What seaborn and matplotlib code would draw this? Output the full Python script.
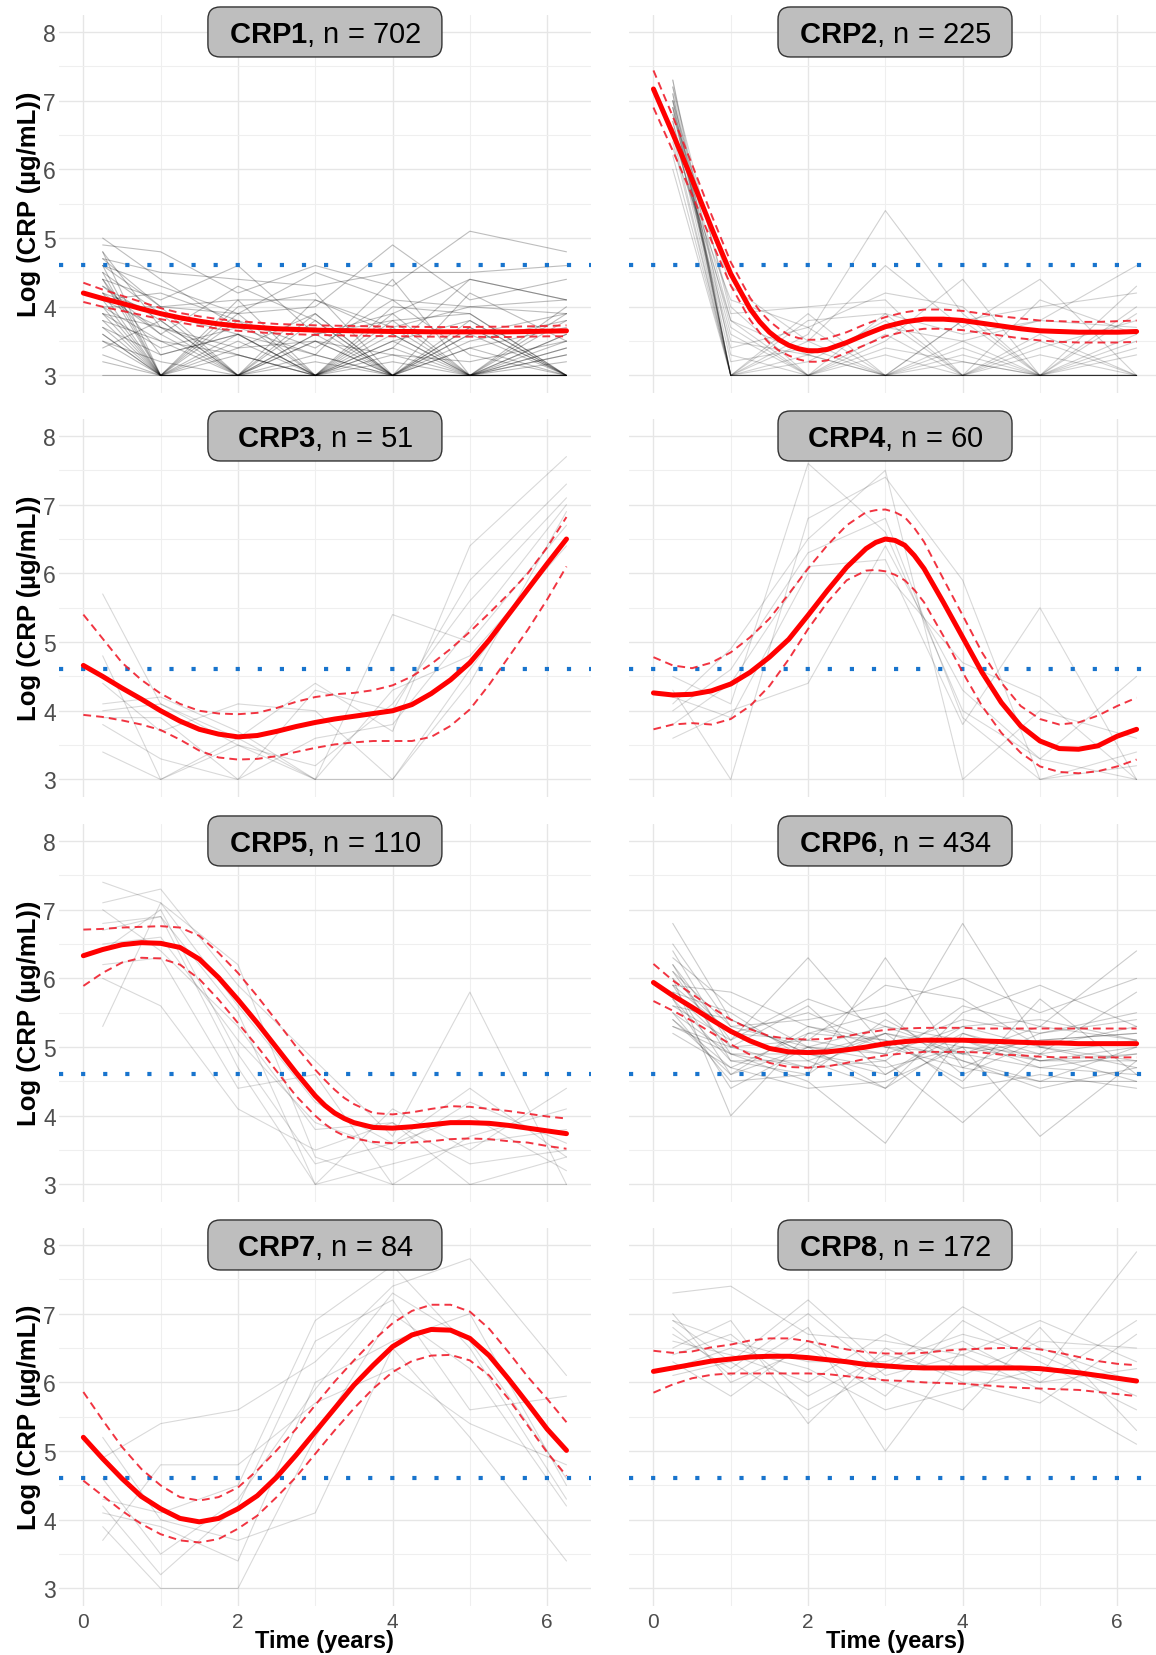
import numpy as np
import pandas as pd
import matplotlib
matplotlib.use("Agg")
import matplotlib.pyplot as plt
from matplotlib.patches import FancyBboxPatch
import seaborn as sns

# ---------------- data ----------------
visit_times = [0.25, 1, 2, 3, 4, 5, 6.25]
curve_times = [0.0, 0.25, 0.5, 0.75, 1.0, 1.25, 1.5, 1.75, 2.0, 2.25, 2.5, 2.75, 3.0,
               3.25, 3.5, 3.75, 4.0, 4.25, 4.5, 4.75, 5.0, 5.25, 5.5, 5.75, 6.0, 6.25]
threshold = 4.605  # log(100 ug/mL)

cluster_names = ["CRP1", "CRP2", "CRP3", "CRP4", "CRP5", "CRP6", "CRP7", "CRP8"]
cluster_n = [702, 225, 51, 60, 110, 434, 84, 172]

crp1_ind = [
    [4.8, 3.0, 3.6, 3.0, 3.4, 3.0, 3.0], [4.5, 3.9, 3.0, 3.5, 3.0, 3.7, 3.0],
    [4.2, 3.0, 4.1, 3.0, 3.9, 3.0, 3.5], [3.9, 3.7, 3.0, 3.8, 3.0, 3.0, 4.0],
    [5.0, 4.4, 3.7, 3.3, 3.0, 3.6, 3.0], [4.6, 3.0, 3.0, 4.1, 3.6, 3.0, 3.8],
    [3.7, 3.3, 3.6, 3.0, 3.0, 3.4, 3.0], [4.4, 4.1, 4.6, 3.6, 3.9, 4.4, 4.1],
    [4.1, 3.0, 3.3, 3.0, 3.7, 3.0, 3.3], [3.4, 3.8, 3.0, 3.0, 4.0, 3.9, 3.0],
    [4.7, 4.0, 3.9, 4.5, 4.1, 4.0, 3.9], [3.9, 3.0, 3.0, 3.0, 3.0, 3.0, 3.0],
    [4.3, 3.6, 4.3, 3.8, 3.0, 3.0, 3.6], [3.6, 3.0, 3.8, 3.0, 3.5, 3.8, 3.0],
    [4.9, 4.8, 4.2, 4.6, 4.3, 5.1, 4.8], [3.0, 3.0, 3.0, 3.5, 3.0, 3.0, 3.2],
    [4.0, 3.5, 3.0, 3.0, 3.3, 3.0, 3.0], [4.6, 4.3, 3.9, 4.0, 4.9, 4.1, 4.4],
    [3.8, 3.0, 3.4, 3.9, 3.0, 3.6, 3.9], [4.2, 3.9, 3.6, 3.0, 3.0, 3.0, 3.4],
    [3.5, 3.2, 3.0, 3.6, 3.8, 3.0, 3.0], [4.4, 3.0, 4.0, 4.2, 3.0, 3.8, 3.0],
    [3.3, 3.0, 3.0, 3.0, 3.0, 3.4, 3.7], [4.1, 4.2, 3.8, 3.4, 4.1, 3.3, 3.0],
    [4.8, 3.7, 3.3, 3.0, 3.4, 4.4, 4.1], [3.9, 3.4, 3.7, 3.7, 3.0, 3.0, 3.0],
    [4.5, 3.0, 3.0, 3.3, 4.4, 3.0, 3.6], [4.0, 4.0, 4.1, 4.1, 3.7, 4.0, 4.1],
    [3.6, 3.0, 3.0, 3.0, 3.6, 3.0, 3.0], [4.3, 3.8, 3.0, 3.9, 3.0, 3.5, 3.8],
    [4.7, 4.5, 4.4, 4.3, 4.5, 4.5, 4.6], [3.7, 3.0, 3.5, 3.0, 3.0, 3.0, 3.4],
    [4.2, 3.6, 3.0, 3.0, 3.8, 3.9, 3.0], [3.2, 3.0, 3.0, 3.2, 3.0, 3.0, 3.0],
    [4.0, 3.0, 3.9, 3.0, 3.2, 3.0, 3.0], [4.6, 4.0, 3.0, 3.6, 3.0, 4.2, 3.5],
    [3.8, 3.5, 3.3, 3.0, 3.5, 3.0, 3.9], [4.4, 3.3, 3.6, 3.3, 3.0, 3.7, 3.0],
    [3.5, 3.0, 3.0, 3.0, 3.0, 3.0, 3.3], [4.1, 3.7, 3.4, 3.5, 3.3, 3.2, 3.5],
]
crp1_t = curve_times
crp1_mean = [4.20, 4.12, 4.05, 3.97, 3.90, 3.84, 3.79, 3.75, 3.72, 3.70, 3.68, 3.67, 3.66,
             3.655, 3.65, 3.645, 3.64, 3.64, 3.635, 3.635, 3.635, 3.635, 3.635, 3.64, 3.645, 3.65]
crp1_hi = [4.35, 4.25, 4.16, 4.07, 3.98, 3.91, 3.86, 3.82, 3.79, 3.77, 3.75, 3.74, 3.73,
           3.725, 3.72, 3.715, 3.71, 3.71, 3.705, 3.705, 3.705, 3.71, 3.71, 3.715, 3.72, 3.73]
crp1_lo = [4.07, 4.00, 3.94, 3.88, 3.82, 3.77, 3.72, 3.68, 3.65, 3.63, 3.61, 3.60, 3.59,
           3.585, 3.58, 3.575, 3.57, 3.57, 3.565, 3.565, 3.565, 3.56, 3.56, 3.565, 3.57, 3.57]

crp2_ind = [
    [7.2, 3.0, 3.0, 3.0, 3.0, 3.0, 3.0], [7.0, 3.0, 3.3, 3.0, 3.5, 3.0, 3.0],
    [6.8, 4.3, 3.5, 3.0, 3.8, 3.0, 3.9], [7.3, 3.0, 3.0, 3.6, 3.0, 3.3, 3.0],
    [6.5, 3.8, 3.0, 3.9, 3.0, 4.1, 3.6], [6.9, 3.0, 3.6, 5.4, 3.9, 3.0, 3.0],
    [6.3, 4.1, 3.7, 4.2, 4.0, 3.0, 4.3], [7.1, 3.0, 3.0, 3.0, 3.3, 3.0, 3.4],
    [6.6, 3.5, 3.3, 3.0, 3.0, 3.6, 3.0], [7.0, 3.0, 3.8, 3.9, 3.6, 3.8, 4.6],
    [6.7, 3.6, 3.0, 3.5, 4.4, 3.0, 3.0], [6.4, 3.0, 3.0, 3.0, 3.0, 3.0, 3.0],
    [7.2, 3.9, 4.0, 4.1, 3.0, 3.4, 3.8], [6.9, 3.2, 3.4, 3.0, 3.0, 3.0, 3.0],
    [6.2, 3.0, 3.0, 3.4, 3.2, 3.0, 3.6], [6.8, 3.7, 3.0, 3.0, 3.8, 4.0, 4.2],
    [7.1, 3.0, 3.2, 3.8, 3.0, 3.0, 3.0], [6.6, 3.4, 3.7, 3.0, 3.4, 3.0, 4.0],
    [6.0, 3.0, 3.0, 3.0, 3.0, 3.5, 3.0], [7.0, 4.0, 3.0, 3.3, 3.0, 3.0, 3.3],
    [6.5, 3.0, 3.5, 4.6, 3.7, 4.4, 3.0], [7.3, 3.3, 3.0, 3.0, 3.0, 3.0, 3.5],
    [6.7, 3.0, 3.9, 3.0, 3.2, 3.0, 3.0], [6.9, 3.8, 3.3, 3.7, 3.5, 3.8, 3.7],
]
crp2_t = [0.0, 0.25, 0.5, 0.75, 1.0, 1.25, 1.375, 1.5, 1.625, 1.75, 1.875, 2.0, 2.125,
          2.25, 2.5, 2.75, 3.0, 3.25, 3.5, 3.75, 4.0, 4.25, 4.5, 4.75, 5.0, 5.25, 5.5,
          5.75, 6.0, 6.25]
crp2_mean = [7.17, 6.52, 5.85, 5.15, 4.48, 3.97, 3.78, 3.63, 3.52, 3.44, 3.39, 3.36, 3.36,
             3.38, 3.48, 3.60, 3.71, 3.78, 3.82, 3.82, 3.80, 3.76, 3.72, 3.68, 3.65, 3.64,
             3.63, 3.63, 3.63, 3.64]
crp2_hi = [7.44, 6.77, 6.07, 5.34, 4.65, 4.13, 3.94, 3.79, 3.68, 3.59, 3.545, 3.52, 3.52,
           3.54, 3.63, 3.75, 3.85, 3.92, 3.96, 3.96, 3.94, 3.90, 3.86, 3.83, 3.80, 3.79,
           3.78, 3.78, 3.79, 3.80]
crp2_lo = [6.90, 6.27, 5.63, 4.96, 4.31, 3.81, 3.62, 3.47, 3.36, 3.29, 3.235, 3.20, 3.20,
           3.22, 3.33, 3.45, 3.57, 3.64, 3.68, 3.68, 3.66, 3.62, 3.58, 3.54, 3.51, 3.49,
           3.48, 3.48, 3.48, 3.49]

crp3_ind = [
    [5.7, 4.1, 3.5, 3.0, 3.0, 4.6, 6.5], [4.8, 3.0, 3.6, 4.4, 3.7, 6.4, 7.7],
    [4.1, 4.2, 3.7, 3.0, 5.4, 5.0, 6.7], [3.9, 3.9, 3.0, 4.3, 4.0, 5.9, 7.3],
    [3.4, 3.0, 3.5, 3.2, 4.1, 5.6, 7.1], [4.4, 3.7, 4.1, 4.0, 3.0, 4.4, 6.9],
    [4.0, 4.1, 3.6, 3.0, 4.3, 4.8, 6.4], [3.8, 3.3, 3.0, 3.6, 3.8, 5.2, 7.0],
]
crp3_t = curve_times
crp3_mean = [4.66, 4.50, 4.33, 4.17, 4.00, 3.85, 3.73, 3.66, 3.62, 3.64, 3.70, 3.77, 3.83,
             3.88, 3.92, 3.96, 4.00, 4.09, 4.25, 4.45, 4.70, 5.03, 5.40, 5.77, 6.14, 6.50]
crp3_hi = [5.40, 5.05, 4.70, 4.45, 4.25, 4.10, 4.00, 3.96, 3.95, 3.97, 4.04, 4.13, 4.20,
           4.24, 4.26, 4.30, 4.37, 4.50, 4.68, 4.90, 5.15, 5.42, 5.70, 6.00, 6.38, 6.82]
crp3_lo = [3.94, 3.91, 3.86, 3.80, 3.72, 3.58, 3.42, 3.32, 3.29, 3.30, 3.34, 3.40, 3.46,
           3.51, 3.54, 3.56, 3.56, 3.56, 3.62, 3.78, 4.02, 4.38, 4.78, 5.18, 5.62, 6.10]

crp4_ind = [
    [4.5, 4.1, 7.6, 6.6, 4.0, 3.3, 3.0], [4.3, 3.0, 6.8, 7.4, 5.9, 3.0, 3.2],
    [4.1, 4.9, 6.5, 7.5, 3.0, 4.0, 3.6], [3.8, 4.4, 6.1, 6.2, 3.8, 5.5, 3.0],
    [3.6, 4.0, 4.4, 6.4, 4.3, 3.3, 4.5], [4.2, 3.9, 6.0, 6.0, 4.7, 4.2, 3.0],
    [4.0, 4.6, 6.3, 6.8, 3.9, 3.0, 3.4],
]
crp4_t = [0.0, 0.25, 0.5, 0.75, 1.0, 1.25, 1.5, 1.75, 2.0, 2.25, 2.5, 2.75, 2.875, 3.0,
          3.125, 3.25, 3.375, 3.5, 3.75, 4.0, 4.25, 4.5, 4.75, 5.0, 5.25, 5.5, 5.75,
          6.0, 6.25]
crp4_mean = [4.26, 4.23, 4.24, 4.29, 4.39, 4.56, 4.78, 5.04, 5.39, 5.75, 6.09, 6.36, 6.45,
             6.50, 6.48, 6.41, 6.26, 6.07, 5.58, 5.07, 4.56, 4.12, 3.78, 3.56, 3.45, 3.44,
             3.49, 3.63, 3.73]
crp4_hi = [4.78, 4.66, 4.62, 4.70, 4.85, 5.07, 5.34, 5.70, 6.07, 6.41, 6.70, 6.89, 6.92,
           6.93, 6.89, 6.82, 6.66, 6.46, 5.92, 5.39, 4.85, 4.41, 4.07, 3.88, 3.80, 3.83,
           3.93, 4.07, 4.19]
crp4_lo = [3.73, 3.80, 3.82, 3.80, 3.88, 4.07, 4.36, 4.75, 5.19, 5.58, 5.90, 6.04, 6.05,
           6.03, 5.98, 5.90, 5.76, 5.58, 5.09, 4.56, 4.07, 3.68, 3.39, 3.19, 3.11, 3.09,
           3.12, 3.19, 3.29]

crp5_ind = [
    [7.4, 7.1, 6.2, 3.4, 3.0, 3.0, 3.4], [7.1, 7.3, 5.9, 4.8, 3.7, 5.8, 3.0],
    [6.8, 6.9, 5.5, 3.0, 4.1, 3.5, 4.4], [6.5, 6.6, 5.1, 3.9, 3.5, 4.2, 3.6],
    [6.2, 6.3, 4.4, 4.6, 3.0, 3.7, 4.1], [6.0, 5.6, 4.1, 3.5, 3.9, 3.0, 3.0],
    [5.3, 7.1, 5.6, 4.2, 3.6, 4.4, 3.4], [6.7, 6.9, 4.7, 3.0, 3.3, 3.6, 3.8],
    [7.0, 6.4, 5.3, 3.8, 3.9, 3.3, 3.5], [6.4, 7.0, 4.9, 3.3, 3.6, 4.0, 3.2],
]
crp5_t = [0.0, 0.25, 0.5, 0.75, 1.0, 1.25, 1.5, 1.75, 2.0, 2.25, 2.5, 2.75, 3.0, 3.125,
          3.25, 3.375, 3.5, 3.75, 4.0, 4.25, 4.5, 4.75, 5.0, 5.25, 5.5, 5.75, 6.0, 6.25]
crp5_mean = [6.33, 6.42, 6.49, 6.52, 6.51, 6.45, 6.28, 6.01, 5.69, 5.35, 4.99, 4.63, 4.29,
             4.15, 4.04, 3.96, 3.90, 3.83, 3.82, 3.84, 3.87, 3.90, 3.90, 3.89, 3.86, 3.82,
             3.78, 3.74]
crp5_hi = [6.71, 6.72, 6.74, 6.75, 6.76, 6.74, 6.62, 6.37, 6.08, 5.74, 5.38, 5.01, 4.67,
           4.52, 4.38, 4.26, 4.17, 4.04, 4.02, 4.05, 4.10, 4.14, 4.13, 4.10, 4.07, 4.03,
           3.99, 3.96]
crp5_lo = [5.89, 6.08, 6.23, 6.30, 6.29, 6.20, 5.99, 5.69, 5.35, 5.01, 4.65, 4.29, 4.00,
           3.88, 3.78, 3.71, 3.67, 3.62, 3.60, 3.61, 3.63, 3.66, 3.67, 3.66, 3.63, 3.61,
           3.56, 3.52]

crp6_ind = [
    [6.8, 5.4, 4.9, 5.2, 5.0, 4.9, 5.1], [6.4, 5.0, 5.6, 4.6, 5.3, 5.0, 4.8],
    [6.2, 4.8, 4.6, 6.3, 4.7, 5.2, 5.4], [6.0, 5.2, 5.1, 4.9, 6.8, 5.0, 4.7],
    [5.9, 4.6, 5.3, 5.1, 4.8, 4.5, 5.0], [5.8, 5.5, 4.8, 4.4, 5.5, 5.9, 5.3],
    [5.7, 4.4, 5.0, 5.3, 5.1, 4.7, 4.6], [5.6, 5.1, 6.3, 5.0, 4.9, 5.3, 6.4],
    [5.5, 4.9, 4.5, 3.6, 5.2, 4.8, 4.9], [5.4, 4.7, 5.2, 5.5, 4.6, 5.1, 5.2],
    [5.3, 5.0, 4.7, 4.8, 3.9, 4.9, 4.5], [6.5, 5.3, 5.4, 5.6, 6.0, 5.5, 6.0],
    [6.1, 4.9, 4.9, 4.7, 5.0, 3.7, 4.8], [5.9, 5.2, 5.5, 5.0, 5.4, 5.2, 5.5],
    [5.7, 4.8, 4.8, 5.2, 4.4, 4.6, 4.4], [6.3, 5.6, 5.0, 4.9, 5.3, 5.4, 5.1],
    [5.5, 4.5, 4.6, 5.4, 4.8, 4.4, 4.7], [5.8, 5.0, 5.1, 5.9, 5.7, 5.0, 5.3],
    [5.2, 4.7, 4.4, 4.5, 5.0, 4.8, 5.0], [6.0, 4.0, 5.2, 5.1, 4.5, 5.7, 4.6],
    [5.6, 5.4, 4.9, 4.6, 5.2, 4.9, 5.8], [6.2, 5.1, 5.7, 5.3, 4.9, 4.7, 4.9],
    [5.4, 4.6, 5.0, 4.8, 5.6, 5.3, 5.1], [5.9, 5.8, 5.3, 5.0, 4.7, 4.5, 4.5],
    [5.3, 4.9, 4.7, 5.2, 4.9, 5.1, 5.2], [6.1, 5.3, 5.0, 4.4, 5.1, 4.8, 4.8],
]
crp6_t = curve_times
crp6_mean = [5.94, 5.75, 5.58, 5.40, 5.23, 5.09, 4.98, 4.93, 4.92, 4.93, 4.96, 5.00, 5.05,
             5.08, 5.10, 5.10, 5.10, 5.09, 5.08, 5.07, 5.06, 5.06, 5.05, 5.05, 5.05, 5.05]
crp6_hi = [6.21, 5.97, 5.77, 5.58, 5.40, 5.26, 5.16, 5.12, 5.11, 5.12, 5.16, 5.21, 5.25,
           5.27, 5.28, 5.28, 5.28, 5.27, 5.27, 5.27, 5.27, 5.27, 5.27, 5.27, 5.27, 5.27]
crp6_lo = [5.67, 5.53, 5.38, 5.21, 5.04, 4.89, 4.77, 4.71, 4.70, 4.72, 4.77, 4.83, 4.88,
           4.91, 4.93, 4.93, 4.93, 4.92, 4.89, 4.88, 4.86, 4.85, 4.85, 4.85, 4.85, 4.85]

crp7_ind = [
    [4.9, 5.4, 5.6, 6.3, 7.4, 7.8, 6.1], [4.3, 4.1, 4.5, 6.9, 7.7, 6.5, 4.3],
    [4.2, 3.2, 4.2, 6.6, 7.2, 5.6, 5.8], [4.1, 3.9, 3.4, 6.0, 6.6, 7.0, 4.5],
    [3.9, 3.0, 3.0, 5.2, 7.0, 6.2, 4.2], [3.7, 4.8, 4.8, 5.7, 6.2, 5.4, 4.8],
    [5.2, 4.0, 3.7, 4.1, 6.5, 5.2, 3.4], [4.6, 3.5, 4.3, 5.9, 7.3, 6.6, 4.6],
]
crp7_t = curve_times
crp7_mean = [5.20, 4.89, 4.60, 4.34, 4.16, 4.02, 3.97, 4.02, 4.16, 4.35, 4.62, 4.94, 5.28,
             5.62, 5.96, 6.25, 6.52, 6.69, 6.77, 6.76, 6.64, 6.39, 6.05, 5.69, 5.32, 5.01]
crp7_hi = [5.86, 5.45, 5.06, 4.74, 4.50, 4.33, 4.28, 4.33, 4.47, 4.72, 5.01, 5.32, 5.67,
           6.01, 6.32, 6.61, 6.86, 7.04, 7.13, 7.13, 7.03, 6.78, 6.44, 6.08, 5.76, 5.42]
crp7_lo = [4.57, 4.35, 4.13, 3.94, 3.79, 3.70, 3.67, 3.72, 3.87, 4.06, 4.33, 4.62, 4.96,
           5.30, 5.62, 5.91, 6.15, 6.31, 6.39, 6.40, 6.32, 6.10, 5.76, 5.37, 4.98, 4.64]

crp8_ind = [
    [7.3, 7.4, 6.7, 6.6, 6.4, 6.9, 6.3], [6.1, 6.3, 7.2, 6.2, 7.1, 6.5, 6.0],
    [6.8, 6.1, 6.8, 5.0, 6.5, 6.1, 7.9], [6.5, 6.9, 5.4, 6.5, 6.0, 5.7, 6.7],
    [6.9, 6.6, 6.3, 6.3, 6.7, 6.4, 5.8], [6.3, 5.8, 6.6, 6.0, 5.6, 6.8, 5.3],
    [6.6, 6.4, 6.0, 6.7, 6.2, 6.0, 6.2], [7.0, 6.0, 6.5, 5.8, 6.9, 6.3, 5.6],
    [6.4, 6.7, 5.8, 6.4, 6.1, 6.6, 6.5], [6.7, 6.2, 7.0, 6.1, 6.4, 5.9, 5.1],
    [6.2, 6.5, 6.2, 5.6, 5.9, 6.2, 6.0], [6.9, 6.3, 5.6, 6.2, 6.6, 6.0, 6.9],
]
crp8_t = curve_times
crp8_mean = [6.16, 6.21, 6.26, 6.31, 6.34, 6.37, 6.38, 6.38, 6.36, 6.33, 6.30, 6.26, 6.24,
             6.22, 6.21, 6.21, 6.21, 6.21, 6.21, 6.21, 6.20, 6.17, 6.14, 6.10, 6.06, 6.02]
crp8_hi = [6.46, 6.43, 6.45, 6.51, 6.55, 6.61, 6.64, 6.64, 6.60, 6.54, 6.48, 6.44, 6.42,
           6.42, 6.43, 6.46, 6.48, 6.49, 6.50, 6.50, 6.48, 6.43, 6.37, 6.31, 6.27, 6.25]
crp8_lo = [5.85, 5.97, 6.06, 6.11, 6.13, 6.13, 6.13, 6.13, 6.13, 6.12, 6.09, 6.06, 6.03,
           6.02, 6.00, 5.99, 5.98, 5.96, 5.94, 5.92, 5.91, 5.90, 5.89, 5.86, 5.83, 5.80]

x_ticks = [0, 2, 4, 6]
y_ticks = [3, 4, 5, 6, 7, 8]

# ---------------- style ----------------
sns.set_style("white")
plt.rcParams["font.family"] = ["Liberation Sans", "DejaVu Sans"]
plt.rcParams["mathtext.fontset"] = "custom"
plt.rcParams["mathtext.rm"] = "Liberation Sans"
plt.rcParams["mathtext.bf"] = "Liberation Sans:bold"

W, H = 1156, 1656
fig = plt.figure(figsize=(W / 100, H / 100), dpi=100)

XLIM = (-0.3125, 6.5625)
YLIM = (2.75, 8.25)
px_per_x = 77.3
px_per_y = 68.7
ax_w = (XLIM[1] - XLIM[0]) * px_per_x
ax_h = (YLIM[1] - YLIM[0]) * px_per_y
col_left = [59.2, 629.3]
row_top = [15.8, 419.8, 824.8, 1228.8]

panels = [
    (crp1_ind, crp1_t, crp1_mean, crp1_lo, crp1_hi),
    (crp2_ind, crp2_t, crp2_mean, crp2_lo, crp2_hi),
    (crp3_ind, crp3_t, crp3_mean, crp3_lo, crp3_hi),
    (crp4_ind, crp4_t, crp4_mean, crp4_lo, crp4_hi),
    (crp5_ind, crp5_t, crp5_mean, crp5_lo, crp5_hi),
    (crp6_ind, crp6_t, crp6_mean, crp6_lo, crp6_hi),
    (crp7_ind, crp7_t, crp7_mean, crp7_lo, crp7_hi),
    (crp8_ind, crp8_t, crp8_mean, crp8_lo, crp8_hi),
]
line_alpha = [0.26, 0.18, 0.15, 0.15, 0.15, 0.20, 0.15, 0.16]

for i, (ind, ct, mean, lo, hi) in enumerate(panels):
    r, c = divmod(i, 2)
    ax = fig.add_axes([col_left[c] / W, 1 - (row_top[r] + ax_h) / H, ax_w / W, ax_h / H])
    ax.set_facecolor("white")

    rows = []
    for sid, vals in enumerate(ind):
        for t, v in zip(visit_times, vals):
            rows.append((sid, t, v))
    ind_df = pd.DataFrame(rows, columns=["subject", "time", "value"])
    sns.lineplot(data=ind_df, x="time", y="value", units="subject", estimator=None,
                 color="black", alpha=line_alpha[i], linewidth=0.8, ax=ax, zorder=2)

    ax.axhline(threshold, color="#1874CD", linewidth=3.0,
               linestyle=(0, (1, 4.3)), zorder=3)

    curve_df = pd.DataFrame({"time": ct, "mean": mean, "lo": lo, "hi": hi})
    for col in ["lo", "hi"]:
        sns.lineplot(data=curve_df, x="time", y=col, color="#F01E2C", alpha=0.9,
                     linewidth=1.4, linestyle=(0, (4, 2.6)), ax=ax, zorder=4)
    sns.lineplot(data=curve_df, x="time", y="mean", color="#FF0000",
                 linewidth=3.6, ax=ax, zorder=5)

    ax.set_xlim(*XLIM)
    ax.set_ylim(*YLIM)
    ax.set_xticks(x_ticks)
    ax.set_xticks([1, 3, 5], minor=True)
    ax.set_yticks(y_ticks)
    ax.set_yticks([3.5, 4.5, 5.5, 6.5, 7.5], minor=True)
    ax.grid(True, which="major", color="#E6E6E6", linewidth=1.0)
    ax.grid(True, which="minor", color="#EFEFEF", linewidth=0.8)
    ax.set_axisbelow(True)
    for s in ax.spines.values():
        s.set_visible(False)
    ax.tick_params(which="both", length=0, labelcolor="#4D4D4D")
    ax.tick_params(axis="y", pad=2.5, labelsize=16.5)
    ax.tick_params(axis="x", pad=4.5, labelsize=15)

    if r < 3:
        ax.set_xticklabels([])
        ax.set_xlabel("")
    else:
        ax.set_xlabel("Time (years)", fontsize=17, fontweight="bold", color="black")
        ax.xaxis.set_label_coords(0.5, -(1642 - (row_top[r] + ax_h)) / ax_h)
        ax.xaxis.label.set_va("center")
    if c == 1:
        ax.set_yticklabels([])
        ax.set_ylabel("")
    else:
        ax.set_ylabel("Log (CRP (µg/mL))", fontsize=18.5, fontweight="bold", color="black")
        ax.yaxis.set_label_coords((29 - col_left[c]) / ax_w, 0.5)
        ax.yaxis.label.set_va("center")

    # facet label box
    cx = (XLIM[0] + XLIM[1]) / 2
    bw = 234 / px_per_x
    bh = 50 / px_per_y
    aspect = px_per_x / px_per_y
    box = FancyBboxPatch((cx - bw / 2, 8 - bh / 2), bw, bh,
                         boxstyle="round,pad=0,rounding_size=0.16",
                         mutation_aspect=aspect,
                         facecolor="#BEBEBE", edgecolor="#333333", linewidth=1.0,
                         clip_on=False, zorder=6)
    ax.add_patch(box)
    ax.text(cx, 8 - 0.03, r"$\mathbf{%s}$, n = %d" % (cluster_names[i], cluster_n[i]),
            ha="center", va="center", fontsize=21, color="black", zorder=7, clip_on=False)

fig.savefig("out.png", dpi=100, facecolor="white")
